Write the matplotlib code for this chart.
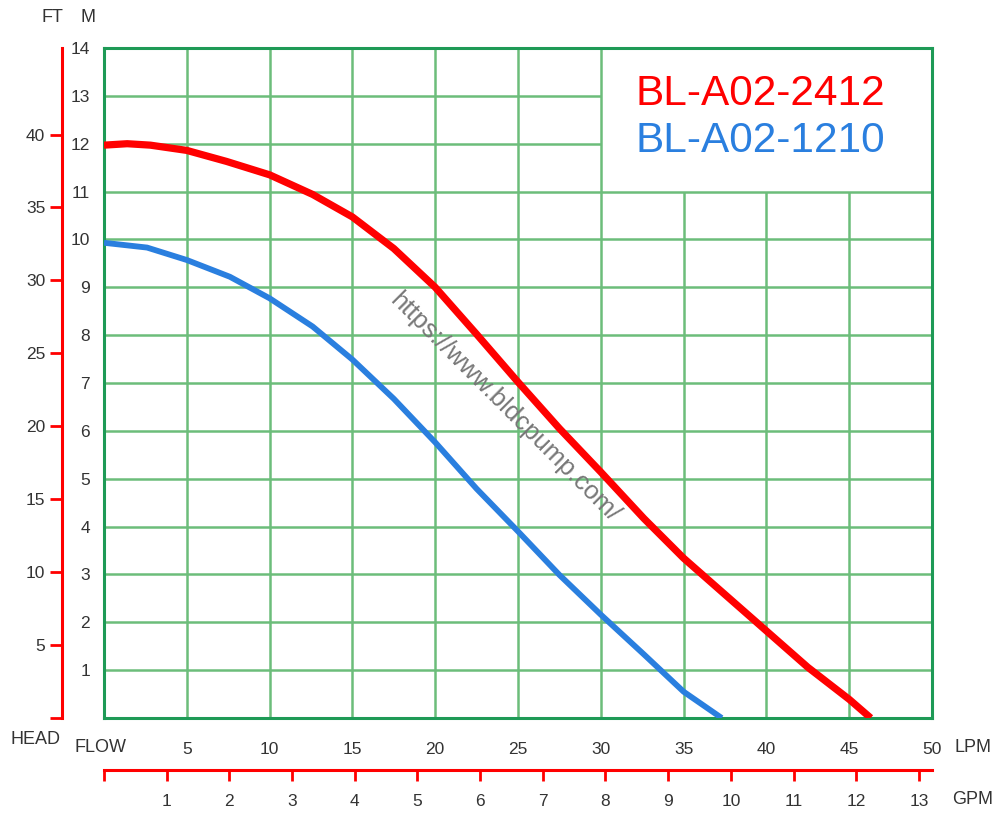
import matplotlib
matplotlib.use('Agg')
import matplotlib.pyplot as plt

plt.rcParams['font.family'] = ['Liberation Sans', 'DejaVu Sans']

# pump curves, flow in LPM, head in M
red_flow = [0, 1.4, 2.8, 5, 7.4, 10, 12.6, 15, 17.5, 20, 22.5, 25, 27.5, 30, 32.6, 35, 37.4, 40, 42.5, 45, 46.3]
red_head = [11.97, 12.0, 11.97, 11.86, 11.63, 11.35, 10.94, 10.47, 9.81, 9.0, 8.02, 7.02, 6.05, 5.14, 4.17, 3.34, 2.61, 1.82, 1.06, 0.39, 0.0]
blue_flow = [0, 2.6, 5, 7.6, 10, 12.6, 15, 17.5, 20, 22.5, 25, 27.5, 30, 32.6, 35, 37.3]
blue_head = [9.93, 9.83, 9.57, 9.22, 8.77, 8.18, 7.49, 6.67, 5.76, 4.79, 3.90, 2.99, 2.16, 1.33, 0.55, 0.0]

models = ['BL-A02-2412', 'BL-A02-1210']
lpm_ticks = [5, 10, 15, 20, 25, 30, 35, 40, 45, 50]
m_ticks = list(range(1, 15))
ft_ticks = [0, 5, 10, 15, 20, 25, 30, 35, 40]
gpm_ticks = list(range(0, 14))

RED = '#ff0000'
BLUE = '#2a7fdf'
GRID = '#6cbd7a'
BORDER = '#1e9a56'
TXT = '#333333'

fig = plt.figure(figsize=(10.02, 8.14), dpi=100)
ax = fig.add_axes([104 / 1002, 1 - 718 / 814, 828 / 1002, 670 / 814])
ax.set_xlim(0, 50)
ax.set_ylim(0, 14)

# grid, leaving the corner behind the model names empty
ax.hlines(range(1, 12), 0, 50, color=GRID, lw=1.8, zorder=1)
ax.hlines([12, 13], 0, 30, color=GRID, lw=1.8, zorder=1)
ax.vlines(range(5, 35, 5), 0, 14, color=GRID, lw=1.8, zorder=1)
ax.vlines([35, 40, 45], 0, 11, color=GRID, lw=1.8, zorder=1)

ax.plot(red_flow, red_head, color=RED, lw=5.2, solid_capstyle='butt',
        solid_joinstyle='round', zorder=3)
ax.plot(blue_flow, blue_head, color=BLUE, lw=4.2, solid_capstyle='butt',
        solid_joinstyle='round', zorder=3)

for s in ax.spines.values():
    s.set_color(BORDER)
    s.set_linewidth(2.2)

ax.set_xticks(lpm_ticks)
ax.set_xticklabels([str(v) for v in lpm_ticks])
ax.set_yticks(m_ticks)
ax.set_yticklabels([str(v) for v in m_ticks])
ax.tick_params(axis='x', length=0, pad=17, labelsize=12.5, labelcolor=TXT)
ax.tick_params(axis='y', length=0, pad=10, labelsize=12.5, labelcolor=TXT)

# FT axis on the left
ft = ax.secondary_yaxis(-42 / 828, functions=(lambda m: m * 3.28084, lambda f: f / 3.28084))
ft.set_yticks(ft_ticks)
ft.set_yticklabels([''] + [str(v) for v in ft_ticks[1:]])
ft.spines['left'].set_color(RED)
ft.spines['left'].set_linewidth(2.2)
ft.tick_params(axis='y', direction='out', length=9, width=2, color=RED,
               pad=3, labelsize=12.5, labelcolor=TXT)

# GPM axis at the bottom
gpm = ax.secondary_xaxis(-52 / 670, functions=(lambda l: l / 3.78541, lambda g: g * 3.78541))
gpm.set_xticks(gpm_ticks)
gpm.set_xticklabels([''] + [str(v) for v in gpm_ticks[1:]])
gpm.spines['bottom'].set_color(RED)
gpm.spines['bottom'].set_linewidth(2.2)
gpm.tick_params(axis='x', direction='out', length=8, width=2, color=RED,
                pad=9, labelsize=12.5, labelcolor=TXT)

# model names
ax.text(32.1, 12.81, models[0], color=RED, fontsize=30.5, va='baseline', zorder=4)
ax.text(32.1, 11.83, models[1], color=BLUE, fontsize=30.5, va='baseline', zorder=4)

# watermark
ax.text(24.2, 6.5, 'https://www.bldcpump.com/', color='#777777', fontsize=18.5,
        rotation=-45, ha='center', va='center', zorder=4)

# axis names
fig.text(52 / 1002, 1 - 17 / 814, 'FT', fontsize=13, color=TXT, ha='center', va='center')
fig.text(88 / 1002, 1 - 17 / 814, 'M', fontsize=13, color=TXT, ha='center', va='center')
fig.text(10 / 1002, 1 - 739 / 814, 'HEAD', fontsize=13, color=TXT, ha='left', va='center')
fig.text(75 / 1002, 1 - 748 / 814, 'FLOW', fontsize=13, color=TXT, ha='left', va='center')
fig.text(955 / 1002, 1 - 748 / 814, 'LPM', fontsize=13, color=TXT, ha='left', va='center')
fig.text(952 / 1002, 1 - 800 / 814, 'GPM', fontsize=13, color=TXT, ha='left', va='center')

fig.savefig('out.png', dpi=100)
